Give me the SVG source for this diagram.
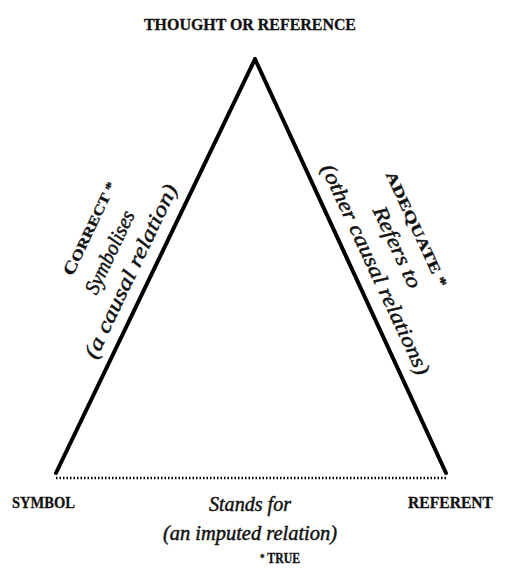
<svg xmlns="http://www.w3.org/2000/svg" width="506" height="570" viewBox="0 0 506 570">
<style>
.cap{font-family:"Liberation Serif","Times New Roman",serif;font-weight:bold;fill:#111;stroke:#111;stroke-width:0.3}
.it{font-family:"Liberation Serif","Times New Roman",serif;font-style:italic;fill:#111;stroke:#111;stroke-width:0.45}
.edge{stroke:#000;stroke-width:4;stroke-linecap:round;fill:none}
.dot{stroke:#000;stroke-width:2.5;stroke-dasharray:1.5 2;fill:none}
</style>
<rect width="506" height="570" fill="#fff"/>
<g id="connectors">
<line class="edge" x1="56" y1="473" x2="255" y2="59"/>
<line class="edge" x1="255" y1="59" x2="446" y2="473"/>
<line class="dot" x1="56" y1="478" x2="447" y2="478"/>
</g>
<g id="thought">
<text class="cap" x="250" y="30" font-size="16" text-anchor="middle" textLength="212" lengthAdjust="spacingAndGlyphs">THOUGHT OR REFERENCE</text>
</g>
<g id="symbol">
<text class="cap" x="12" y="508" font-size="17" textLength="63" lengthAdjust="spacingAndGlyphs">SYMBOL</text>
</g>
<g id="referent">
<text class="cap" x="408" y="508" font-size="17" textLength="85" lengthAdjust="spacingAndGlyphs">REFERENT</text>
</g>
<g id="left-label">
<text class="cap" font-size="14" text-anchor="middle" transform="translate(94.3,230.6) rotate(-64.55)" textLength="102" lengthAdjust="spacingAndGlyphs"><tspan font-size="17">C</tspan>ORRECT *</text>
<text class="it" font-size="21" text-anchor="middle" transform="translate(115.9,255.2) rotate(-64.55)" textLength="90" lengthAdjust="spacingAndGlyphs">Symbolises</text>
<text class="it" font-size="21" text-anchor="middle" transform="translate(136.8,274.1) rotate(-64.55)" textLength="190" lengthAdjust="spacingAndGlyphs">(a causal relation)</text>
</g>
<g id="right-label">
<text class="cap" font-size="15" text-anchor="middle" transform="translate(412,231.4) rotate(65)" textLength="126" lengthAdjust="spacingAndGlyphs">ADEQUATE *</text>
<text class="it" font-size="21" text-anchor="middle" transform="translate(391,250.1) rotate(65)" textLength="88" lengthAdjust="spacingAndGlyphs">Refers to</text>
<text class="it" font-size="21" text-anchor="middle" transform="translate(369.4,272.3) rotate(65)" textLength="230" lengthAdjust="spacingAndGlyphs">(other causal relations)</text>
</g>
<g id="bottom-label">
<text class="it" x="250" y="511" font-size="20" text-anchor="middle" textLength="82" lengthAdjust="spacingAndGlyphs">Stands for</text>
<text class="it" x="250" y="540" font-size="20" text-anchor="middle" textLength="174" lengthAdjust="spacingAndGlyphs">(an imputed relation)</text>
<text class="cap" x="280" y="563" font-size="14" text-anchor="middle" textLength="40" lengthAdjust="spacingAndGlyphs"><tspan font-size="11" dy="-2">*</tspan><tspan dy="2"> TRUE</tspan></text>
</g>
</svg>
